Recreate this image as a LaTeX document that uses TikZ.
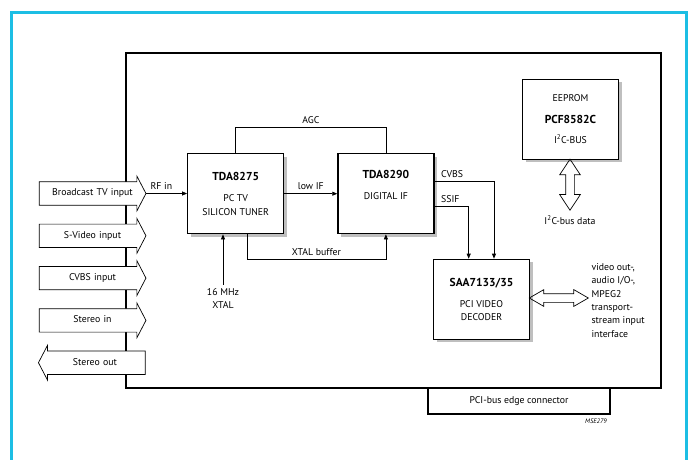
\documentclass[tikz,border=0pt]{standalone}
\usepackage{fontspec}
\setmainfont{PT Sans}
\usepackage{tikz}
\usetikzlibrary{arrows.meta,shapes.arrows,shadows}
\definecolor{framecyan}{RGB}{28,190,228}
\newcommand{\partno}[1]{{\fontsize{11.5}{13}\selectfont\bfseries #1}}

\begin{document}
\begin{tikzpicture}[x=1pt,y=-1pt,
    every node/.append style={font=\fontsize{9.8}{13.3}\selectfont},
    chip/.style={draw,line width=1.3pt,fill=white,align=center,
      minimum width=96pt,minimum height=80pt,
      drop shadow={shadow xshift=3pt,shadow yshift=-3pt,fill=black!25,opacity=1}},
    inport/.style={single arrow,draw,fill=white,line width=0.7pt,
      minimum height=106.8pt,single arrow head extend=5.7pt,
      single arrow tip angle=125,inner ysep=7.2pt,inner xsep=0pt,
      text width=97.9pt,align=center,
      text height=6.5pt,text depth=1.8pt,anchor=tail},
    sig/.style={line width=0.7pt,-{Triangle[length=5pt,width=4pt]}},
    wire/.style={line width=0.7pt}]
\useasboundingbox (0,0) rectangle (691,459);

% outer frame
\draw[framecyan,line width=3pt] (11.5,470) -- (11.5,12.2) -- (686.7,12.2) -- (686.7,470);

% board and edge connector
\node[draw,line width=1.1pt,minimum width=535pt,minimum height=335pt] (board) at (393.5,220.5) {};
\node[draw,line width=1.1pt,minimum width=182pt,minimum height=26pt] (pci) at (519,401) {PCI-bus edge connector};
\node[font=\fontsize{6.5}{7}\selectfont\itshape] (code) at (596,421.7) {MSE279};

% board inputs / outputs
\node[inport] (bcast) at (38.8,193.5) {\hspace*{6pt}Broadcast TV input};
\node[inport] (svideo) at (38.8,235.8) {\hspace*{6pt}S-Video input};
\node[inport] (cvbs) at (38.8,278.1) {\hspace*{6pt}CVBS input};
\node[inport] (stin) at (38.8,320.4) {\hspace*{6pt}Stereo in};
\node[inport,shape border rotate=180] (stout) at (145.6,362.7) {Stereo out\hspace*{6pt}};

% chips
\node[chip] (tuner) at (235.7,193.7) {\partno{TDA8275}\\[8pt]PC TV\\SILICON TUNER};
\node[chip] (digif) at (385.9,193.7) {\partno{TDA8290}\\[8pt]DIGITAL IF\\\strut};
\node[chip] (decoder) at (481.5,299.3) {\partno{SAA7133/35}\\[8pt]PCI VIDEO\\DECODER};
\node[chip] (eeprom) at (570.5,119.2) {EEPROM\\[8pt]\partno{PCF8582C}\\[7pt]I\textsuperscript{2}C-BUS};

\node[align=center] (xtal) at (223,298.5) {16 MHz\\XTAL};
\node (i2clbl) at (570,220) {I\textsuperscript{2}C-bus data};
\node[align=left,anchor=west] (ifc) at (588,300.5) {video out-,\\audio I/O-,\\MPEG2\\transport-\\stream input\\interface};

% buses
\node[double arrow,draw,line width=0.7pt,rotate=90,inner sep=4pt,
  minimum height=51pt,double arrow head extend=6pt,double arrow tip angle=67] (i2cbus) at (570,184.7) {};
\node[double arrow,draw,line width=0.7pt,inner sep=4pt,
  minimum height=59pt,double arrow head extend=4pt,double arrow tip angle=60] (vbus) at (558.8,298) {};

% signals
\draw[sig] (bcast.tip) -- (bcast.tip -| tuner.west) node[pos=0.37,above] {RF in};
\draw[sig] (tuner.east) -- (digif.west) node[midway,above] {low IF};
\draw[wire] (tuner.north) -- ++(0,-25.3) -| (digif.north) node[pos=0.25,above] {AGC};
\draw[sig] ([xshift=11.3pt]tuner.south) -- ++(0,25) -| (digif.south) node[pos=0.25,above] {XTAL buffer};
\draw[sig] (xtal) -- (xtal |- tuner.south);
\draw[sig] ([yshift=12pt]digif.east) node[above right,xshift=3pt] {CVBS} -| ([xshift=12.5pt]decoder.north);
\draw[sig] ([yshift=-13pt]digif.east) node[above right,xshift=3pt] {SSIF} -| ([xshift=-12.8pt]decoder.north);
\end{tikzpicture}
\end{document}
